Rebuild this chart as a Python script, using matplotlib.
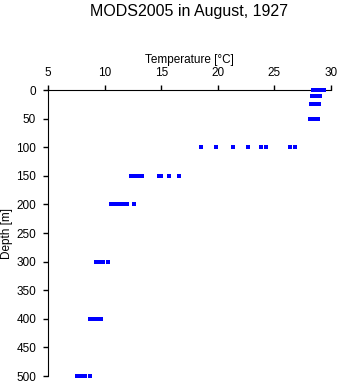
import matplotlib
matplotlib.use('Agg')
import matplotlib.pyplot as plt

plt.rcParams['font.family'] = ['Liberation Sans', 'DejaVu Sans']

# Observed temperatures (degC) at each standard depth (m)
depths = [0, 10, 25, 50, 100, 150, 200, 300, 400, 500]
temps = [
    [28.4, 28.5, 28.6, 28.7, 28.8, 28.9, 29.0, 29.1, 29.4],
    [28.35, 28.5, 28.6, 28.7, 28.8, 28.9, 29.0],
    [28.2, 28.3, 28.4, 28.5, 28.6, 28.7, 28.8, 28.9],
    [28.1, 28.2, 28.3, 28.4, 28.5, 28.6, 28.7, 28.85],
    [18.55, 19.85, 21.3, 22.65, 23.85, 24.3, 26.4, 26.85],
    [12.3, 12.4, 12.5, 12.6, 12.7, 12.8, 12.95, 13.3, 14.8, 15.0, 15.7, 16.6],
    [10.6, 10.7, 10.8, 10.9, 11.0, 11.1, 11.2, 11.3, 11.45, 11.6, 11.75, 11.9, 12.0, 12.6],
    [9.2, 9.3, 9.4, 9.5, 9.6, 9.7, 9.9, 10.3],
    [8.7, 8.8, 8.9, 9.0, 9.1, 9.2, 9.3, 9.4, 9.55, 9.65],
    [7.6, 7.7, 7.8, 7.9, 8.0, 8.1, 8.2, 8.3, 8.7],
]

x = [t for row in temps for t in row]
y = [d for d, row in zip(depths, temps) for _ in row]

fig = plt.figure(figsize=(3.41, 3.84), dpi=100)
ax = fig.add_axes([0.1408, 0.0208, 0.8299, 0.7448])

ax.plot(x, y, linestyle='none', marker='s', markersize=2.4,
        color='#0000ff', markeredgewidth=0, clip_on=False, zorder=5)

ax.set_xlim(5, 30)
ax.set_ylim(500, 0)
ax.set_xticks(range(5, 31, 5))
ax.set_yticks(range(0, 501, 50))

ax.spines['right'].set_visible(False)
ax.spines['bottom'].set_visible(False)
ax.xaxis.tick_top()
ax.xaxis.set_label_position('top')
ax.tick_params(axis='both', direction='out', length=3.6, width=1,
               labelsize=8.5, pad=4)
ax.tick_params(axis='y', pad=5)

ax.set_xlabel('Temperature [°C]', fontsize=8.5, labelpad=3)
ax.set_ylabel('Depth [m]', fontsize=8.5, labelpad=2)

# title centred over the plotting area
fig.text(0.5557, 0.99, 'MODS2005 in August, 1927', fontsize=11.5,
         ha='center', va='top')

fig.savefig('out.png', dpi=100)
